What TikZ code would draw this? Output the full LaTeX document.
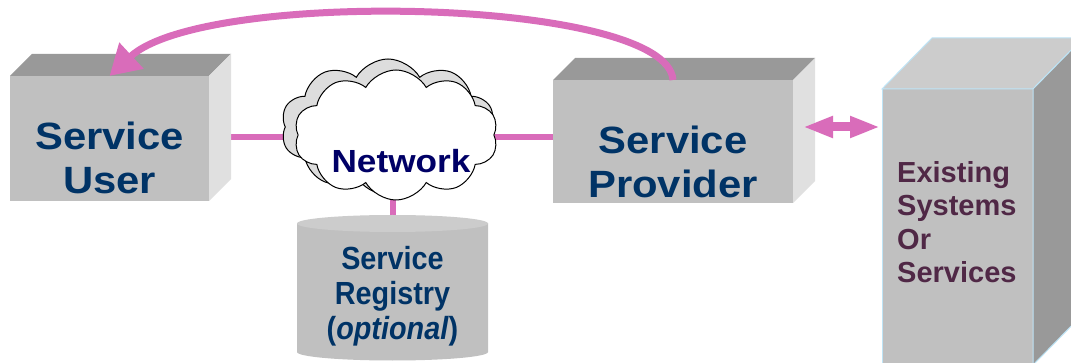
\documentclass[tikz,border=0pt]{standalone}
\usepackage{fontspec}
\setmainfont{Liberation Sans}
\newfontfamily\widesans[FakeStretch=1.1]{Liberation Sans}
\newfontfamily\slimsans[FakeStretch=0.9]{Liberation Sans}
\usetikzlibrary{arrows.meta,shapes.symbols,backgrounds,calc}

\definecolor{pinkline}{RGB}{217,108,186}
\definecolor{navytext}{RGB}{0,51,102}
\definecolor{netblue}{RGB}{0,0,102}
\definecolor{plum}{RGB}{80,40,70}
\definecolor{frontgray}{RGB}{192,192,192}
\definecolor{topgray}{RGB}{153,153,153}
\definecolor{sidegray}{RGB}{224,224,224}
\definecolor{lidgray}{RGB}{204,204,204}
\definecolor{edgeblue}{RGB}{190,228,246}
\definecolor{puffgray}{RGB}{221,221,221}

\begin{document}
\begin{tikzpicture}[x=1pt,y=-1pt,
  face/.style={fill=frontgray, draw=none, inner sep=0pt, outer sep=0pt},
  topface/.style={fill=topgray},
  sideface/.style={fill=sidegray},
  link/.style={draw=pinkline, line width=6pt},
  callback/.style={draw=pinkline, line width=7pt,
    -{Triangle[length=30pt,width=34pt]}},
  twoway/.style={draw=pinkline, line width=9pt,
    {Triangle[length=30pt,width=20pt]}-{Triangle[length=30pt,width=20pt]}},
  puff/.style={cloud, cloud puffs=10, cloud puff arc=120, aspect=1.6,
    draw=black, line width=1pt, inner sep=0pt},
  boxlabel/.style={font=\widesans\bfseries\fontsize{38}{44}\selectfont,
    text=navytext, align=center, inner sep=0pt},
]
\useasboundingbox (0,0) rectangle (1071,363);
\clip (0,0) rectangle (1071,363);

% ---------- Service User (3-D box) ----------
\node[face, minimum width=199pt, minimum height=125pt] (user) at (109.5,138.5) {};
\fill[topface] (user.north west) -- ++(22,-22) -- ++(199,0) -- (user.north east) -- cycle;
\fill[sideface] (user.north east) -- ++(22,-22) -- ++(0,125) -- (user.south east) -- cycle;
\node[boxlabel] (userlbl) at (109.5,157.5) {Service\\User};

% ---------- Service Provider (3-D box) ----------
\node[face, minimum width=240pt, minimum height=123pt] (provider) at (673,141.5) {};
\fill[topface] (provider.north west) -- ++(22,-22) -- ++(240,0) -- (provider.north east) -- cycle;
\fill[sideface] (provider.north east) -- ++(22,-22) -- ++(0,123) -- (provider.south east) -- cycle;
\node[boxlabel] (providerlbl) at (673,161.5) {Service\\Provider};

% ---------- Existing systems (tall 3-D block) ----------
\node[face, draw=edgeblue, line width=1pt, minimum width=151pt, minimum height=276pt] (existing) at (957.5,227) {};
\filldraw[fill=lidgray, draw=edgeblue, line width=1pt]
  (existing.north west) -- ++(50,-51) -- ++(151,0) -- (existing.north east) -- cycle;
\filldraw[fill=topgray, draw=edgeblue, line width=1pt]
  (existing.north east) -- ++(50,-51) -- ++(0,276) -- (existing.south east) -- cycle;
\node[font=\bfseries\fontsize{29}{33.5}\selectfont, text=plum, align=left,
  inner sep=0pt, anchor=west] (existinglbl) at (897,222) {Existing\\Systems\\Or\\Services};

% ---------- Service Registry (cylinder) ----------
\node[inner sep=0pt, outer sep=0pt, minimum width=191pt, minimum height=128.5pt] (registry) at (392.5,287.75) {};
\fill[frontgray] (registry.north west) -- (registry.south west)
  arc[start angle=180, end angle=360, x radius=95.5pt, y radius=8.5pt]
  -- (registry.north east) -- cycle;
\fill[lidgray] (registry.north) ellipse[x radius=95.5pt, y radius=8.5pt];
\node[font=\slimsans\bfseries\fontsize{32}{35}\selectfont, text=navytext,
  align=center, inner sep=0pt] (registrylbl) at (392.5,296.5)
  {Service\\Registry\\(\textit{optional})};

% ---------- Network cloud ----------
\node[puff, fill=puffgray, minimum width=214pt, minimum height=136pt] (netshade) at (388,127) {};
\node[puff, fill=white, minimum width=204pt, minimum height=130pt] (net) at (396,135) {};
\node[font=\widesans\bfseries\fontsize{32}{36}\selectfont, text=netblue,
  inner sep=0pt] (netlbl) at (401,161.5) {Network};
\coordinate (hub) at (395,137);

% ---------- connectors ----------
\begin{pgfonlayer}{background}
  \fill[white] (0,0) rectangle (1071,363);
  \draw[link] ([shift={(22,-1.5)}]user.east) -- (hub);
  \draw[link] (hub) -- (provider.west |- hub);
  \draw[link] (hub -| registrylbl) -- (registry.north);
\end{pgfonlayer}

\draw[callback] (provider.north) .. controls +(-6,-82) and +(95,-88) .. (user.north);
\draw[twoway] ([shift={(10,-14.5)}]provider.east) -- ([shift={(-2,-100)}]existing.west);
\end{tikzpicture}
\end{document}
